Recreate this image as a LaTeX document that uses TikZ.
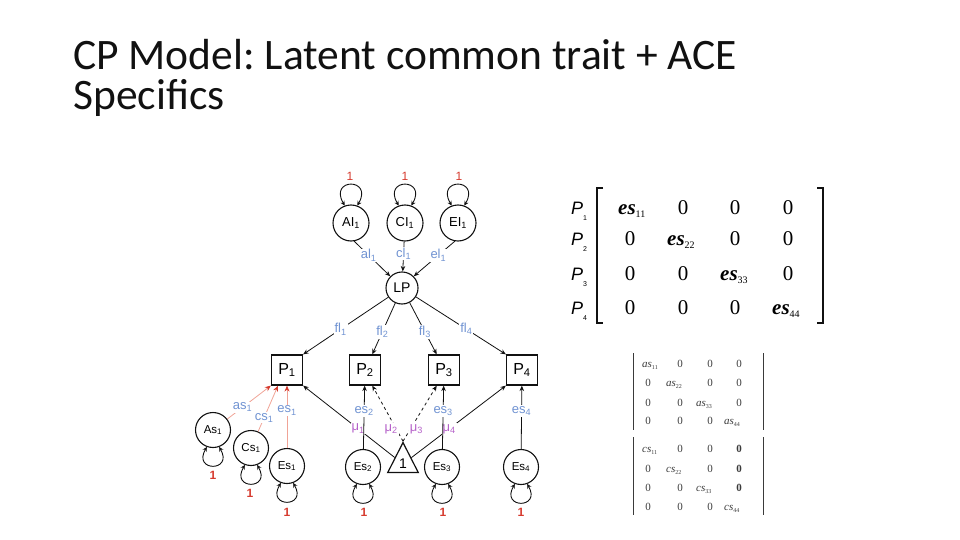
\documentclass[tikz,border=0pt]{standalone}
\usepackage{fontspec}
\setmainfont{Liberation Sans}
\newfontfamily\cptitle{Carlito}
\newfontfamily\cpserif{Liberation Serif}
\usetikzlibrary{arrows.meta,positioning,shapes.geometric}
\frenchspacing
\definecolor{cpblue}{HTML}{7093D2}
\definecolor{cpmu}{HTML}{B561C9}
\definecolor{cpred}{HTML}{D63B2F}
\definecolor{cppink}{HTML}{F0A396}
\definecolor{cpink}{HTML}{111111}
\definecolor{cpmat}{HTML}{3A3A3A}
\tikzset{
  latA/.style={circle,draw=cpink,line width=1.1pt,fill=white,minimum size=36pt,
              inner sep=0pt,font=\fontsize{13}{13}\selectfont},
  latS/.style={latA,minimum size=35pt,font=\fontsize{11.5}{11.5}\selectfont},
  obs/.style={draw=cpink,line width=1.2pt,fill=white,minimum width=31pt,minimum height=30pt,
              inner sep=0pt,font=\fontsize{16}{16}\selectfont},
  pathe/.style={-{Stealth[length=5.5pt,width=4.5pt]},line width=0.8pt,draw=cpink},
  rede/.style={-{Stealth[length=6pt,width=5pt,color=cpred]},line width=0.8pt,draw=cppink},
  mue/.style={pathe,dashed},
  selfl/.style={{Stealth[length=4.5pt,width=4.5pt]}-{Stealth[length=4.5pt,width=4.5pt]},line width=0.9pt,draw=cpink},
  coef/.style={font=\fontsize{13}{13}\selectfont,text=cpblue,fill=white,inner sep=1pt},
  mulab/.style={font=\fontsize{13}{13}\selectfont,text=cpmu,fill=white,inner sep=1pt},
  one/.style={font=\fontsize{12}{12}\selectfont,text=cpred,inner sep=0pt},
  oneb/.style={one,font=\bfseries\fontsize{12}{12}\selectfont},
  bigz/.style={font=\cpserif\fontsize{21}{21}\selectfont,anchor=base,inner sep=0pt},
  bige/.style={font=\cpserif\bfseries\itshape\fontsize{21}{21}\selectfont,anchor=base west,inner sep=0pt},
  smz/.style={font=\cpserif\fontsize{11}{11}\selectfont,text=cpmat,anchor=base,inner sep=0pt},
  smzb/.style={smz,font=\cpserif\bfseries\fontsize{11}{11}\selectfont},
  sme/.style={font=\cpserif\itshape\fontsize{11}{11}\selectfont,text=cpmat,anchor=base west,inner sep=0pt},
  plab/.style={font=\itshape\fontsize{18}{18}\selectfont,anchor=base,inner sep=0pt},
}
\newcommand{\bsub}[1]{\raisebox{-3pt}{\cpserif\upshape\mdseries\fontsize{10}{10}\selectfont #1}}
\newcommand{\ssub}[1]{\raisebox{-2pt}{\cpserif\upshape\mdseries\fontsize{6}{6}\selectfont #1}}
\newcommand{\psub}[1]{\raisebox{-6pt}{\upshape\fontsize{7}{7}\selectfont #1}}

\begin{document}
\begin{tikzpicture}[x=1pt,y=-1pt]
  \useasboundingbox (0,0) rectangle (960,540);
  \node[anchor=base west,inner sep=0pt,font=\cptitle\fontsize{43.5}{43.5}\selectfont,text=cpink]
    (title1) at (73,70) {CP Model: Latent common trait + ACE};
  \node[anchor=base west,inner sep=0pt,font=\cptitle\fontsize{43.5}{43.5}\selectfont,text=cpink]
    (title2) at (73,110) {Specifics};

  % common factor
  \node[latA] (AI1) at (351,223) {AI\textsubscript{1}};
  \node[latA] (CI1) at (405,223) {CI\textsubscript{1}};
  \node[latA] (EI1) at (458,223) {EI\textsubscript{1}};
  \node[latA,minimum size=32pt,font=\fontsize{14}{14}\selectfont] (LP) at (402,288) {LP};
  \node[one] (oAI) at (350,176) {1};
  \node[one] (oCI) at (405,176) {1};
  \node[one] (oEI) at (459,176) {1};
  \draw[selfl] (AI1.110) to[out=120,in=60,looseness=6.5] (AI1.70);
  \draw[selfl] (CI1.110) to[out=120,in=60,looseness=6.5] (CI1.70);
  \draw[selfl] (EI1.110) to[out=120,in=60,looseness=6.5] (EI1.70);
  \draw[pathe] (AI1.-80) -- node[coef,pos=0.4] (al) {al\textsubscript{1}} (LP.135);
  \draw[pathe] (CI1) -- node[coef,pos=0.4] (cl) {cl\textsubscript{1}} (LP);
  \draw[pathe] (EI1.-100) -- node[coef,pos=0.4] (el) {el\textsubscript{1}} (LP.45);

  % phenotypes
  \node[obs] (P1) at (287,370) {P\textsubscript{1}};
  \node[obs] (P2) at (365,370) {P\textsubscript{2}};
  \node[obs] (P3) at (444,370) {P\textsubscript{3}};
  \node[obs] (P4) at (522,370) {P\textsubscript{4}};
  \draw[pathe] (LP) -- node[coef,pos=0.56] (fl1) {fl\textsubscript{1}} (P1.north east);
  \draw[pathe] (LP) -- node[coef,pos=0.56] (fl2) {fl\textsubscript{2}} (P2.65);
  \draw[pathe] (LP) -- node[coef,pos=0.56] (fl3) {fl\textsubscript{3}} (P3.115);
  \draw[pathe] (LP) -- node[coef,pos=0.56] (fl4) {fl\textsubscript{4}} (P4.north west);

  % specifics
  \node[latS] (As1) at (213,430) {As\textsubscript{1}};
  \node[latS] (Cs1) at (251,448) {Cs\textsubscript{1}};
  \node[latS] (Es1) at (287,466) {Es\textsubscript{1}};
  \node[latS] (Es2) at (363,467) {Es\textsubscript{2}};
  \node[latS] (Es3) at (442,467) {Es\textsubscript{3}};
  \node[latS] (Es4) at (521,467) {Es\textsubscript{4}};
  \node[isosceles triangle,isosceles triangle apex angle=54,shape border rotate=90,
        minimum size=30pt,inner sep=1pt,draw=cpink,line width=1.2pt,fill=white,
        font=\fontsize{14}{14}\selectfont] (tri) at (403,464) {1};
  \foreach \s in {As1,Cs1,Es1,Es2,Es3,Es4}
    \draw[selfl] (\s.-110) to[out=-120,in=-60,looseness=6] (\s.-70);
  \node[oneb] (oAs) at (213,475) {1};
  \node[oneb] (oCs) at (250,493) {1};
  \node[oneb] (oEs1) at (287,512) {1};
  \node[oneb] (oEs2) at (364,512) {1};
  \node[oneb] (oEs3) at (443,512) {1};
  \node[oneb] (oEs4) at (521,512) {1};

  % means
  \draw[pathe] (tri) -- node[mulab,pos=0.4] (mu1) {μ\textsubscript{1}} (P1.south east);
  \draw[mue] (tri.apex) -- node[mulab,pos=0.22,xshift=-5pt] (mu2) {μ\textsubscript{2}} (P2.-65);
  \draw[mue] (tri.apex) -- node[mulab,pos=0.22,xshift=6pt] (mu3) {μ\textsubscript{3}} (P3.-115);
  \draw[pathe] (tri) -- node[mulab,pos=0.4] (mu4) {μ\textsubscript{4}} (P4.south west);

  \draw[rede] (As1) -- node[coef,pos=0.35] (as) {as\textsubscript{1}} (P1.south west);
  \draw[rede] (Cs1) -- node[coef,pos=0.3] (cs) {cs\textsubscript{1}} (P1.-120);
  \draw[rede] (Es1) -- node[coef,pos=0.6] (es1) {es\textsubscript{1}} (P1);
  \draw[pathe] (Es2) -- node[coef,pos=0.6] (es2) {es\textsubscript{2}} (P2);
  \draw[pathe] (Es3) -- node[coef,pos=0.6] (es3) {es\textsubscript{3}} (P3);
  \draw[pathe] (Es4) -- node[coef,pos=0.6] (es4) {es\textsubscript{4}} (P4);

  % specific E matrix
  \draw[line width=1.6pt,cpink] (603,188) -- (597,188) -- (597,323) -- (603,323);
  \draw[line width=1.6pt,cpink] (817,188) -- (823,188) -- (823,323) -- (817,323);
  \node[plab] (r1) at (579,214) {P\psub{1}};
  \node[plab] (r2) at (579,245) {P\psub{2}};
  \node[plab] (r3) at (579,280) {P\psub{3}};
  \node[plab] (r4) at (579,314) {P\psub{4}};
  \node[bige] (e11) at (618,214) {es\bsub{11}};
  \node[bigz] (e12) at (683,214) {0}; \node[bigz] (e13) at (735,214) {0}; \node[bigz] (e14) at (788,214) {0};
  \node[bigz] (e21) at (630,245) {0}; \node[bige] (e22) at (667,245) {es\bsub{22}};
  \node[bigz] (e23) at (735,245) {0}; \node[bigz] (e24) at (788,245) {0};
  \node[bigz] (e31) at (630,280) {0}; \node[bigz] (e32) at (683,280) {0};
  \node[bige] (e33) at (720,280) {es\bsub{33}}; \node[bigz] (e34) at (788,280) {0};
  \node[bigz] (e41) at (630,314) {0}; \node[bigz] (e42) at (683,314) {0};
  \node[bigz] (e43) at (735,314) {0}; \node[bige] (e44) at (772,314) {es\bsub{44}};

  % specific A matrix
  \draw[line width=1pt,cpmat] (633,353) -- (633,430);
  \draw[line width=1pt,cpmat] (763,353) -- (763,430);
  \node[sme] (a11) at (642,367) {as\ssub{11}};
  \node[smz] (a12) at (680,367) {0}; \node[smz] (a13) at (710,367) {0}; \node[smz] (a14) at (739,367) {0};
  \node[smz] (a21) at (648,386) {0}; \node[sme] (a22) at (666,386) {as\ssub{22}};
  \node[smz] (a23) at (710,386) {0}; \node[smz] (a24) at (739,386) {0};
  \node[smz] (a31) at (648,406) {0}; \node[smz] (a32) at (680,406) {0};
  \node[sme] (a33) at (696,406) {as\ssub{33}}; \node[smz] (a34) at (739,406) {0};
  \node[smz] (a41) at (648,424) {0}; \node[smz] (a42) at (680,424) {0};
  \node[smz] (a43) at (710,424) {0}; \node[sme] (a44) at (724,424) {as\ssub{44}};

  % specific C matrix
  \draw[line width=1pt,cpmat] (633,437) -- (633,515);
  \draw[line width=1pt,cpmat] (763,437) -- (763,515);
  \node[sme] (c11) at (642,452) {cs\ssub{11}};
  \node[smz] (c12) at (680,452) {0}; \node[smz] (c13) at (710,452) {0}; \node[smzb] (c14) at (739,452) {0};
  \node[smz] (c21) at (648,472) {0}; \node[sme] (c22) at (666,472) {cs\ssub{22}};
  \node[smz] (c23) at (710,472) {0}; \node[smzb] (c24) at (739,472) {0};
  \node[smz] (c31) at (648,491) {0}; \node[smz] (c32) at (680,491) {0};
  \node[sme] (c33) at (696,491) {cs\ssub{33}}; \node[smzb] (c34) at (739,491) {0};
  \node[smz] (c41) at (648,510) {0}; \node[smz] (c42) at (680,510) {0};
  \node[smz] (c43) at (710,510) {0}; \node[sme] (c44) at (724,510) {cs\ssub{44}};
\end{tikzpicture}
\end{document}
